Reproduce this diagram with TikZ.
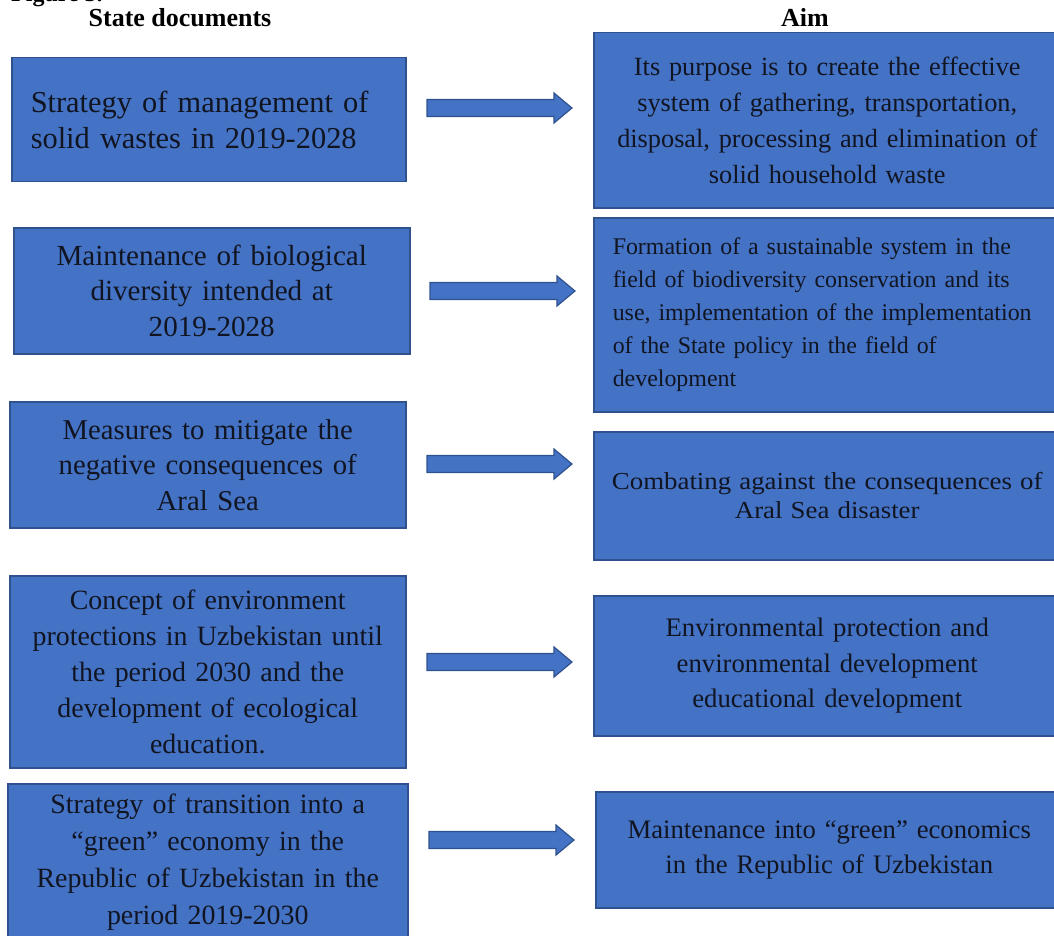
\documentclass[tikz,border=0pt]{standalone}
\usepackage{fontspec}
\setmainfont{Liberation Serif}
\newfontfamily\widefont[FakeStretch=1.1]{Liberation Serif}
\usetikzlibrary{calc}
\definecolor{boxblue}{HTML}{4472C4}
\definecolor{boxedge}{HTML}{2F528F}
\definecolor{inkcol}{HTML}{111522}
\begin{document}
\begin{tikzpicture}[x=1pt,y=-1pt,
  box/.style={draw=boxedge, line width=1.5pt, fill=boxblue, inner sep=0pt,
    anchor=north west, text=inkcol, align=center},
  head/.style={font=\bfseries\fontsize{26}{30}\selectfont, anchor=base, inner sep=0pt},
  barrow/.style={draw=boxedge, line width=1.2pt, fill=boxblue, line join=miter}]
\useasboundingbox (0,0) rectangle (1054,936);
\clip (0,0) rectangle (1054,936);

% headings
\node[head, anchor=base west, font=\bfseries\fontsize{24}{28}\selectfont] (fig) at (11,2) {Figure 3.};
\node[head] (hL) at (180,27) {State documents};
\node[head] (hR) at (805,27) {Aim};

% left column: state documents
\node[box, minimum width=394pt, minimum height=124pt, text width=356pt, align=left,
  font=\fontsize{30.4}{36}\selectfont] (L1) at (11,57)
  {Strategy of management of\\solid wastes in 2019-2028};
\node[box, minimum width=396pt, minimum height=126pt, text width=385pt,
  font=\fontsize{29.1}{35.5}\selectfont] (L2) at (13,227)
  {Maintenance of biological\\diversity intended at\\2019-2028};
\node[box, minimum width=396pt, minimum height=126pt, text width=385pt,
  font=\fontsize{28.7}{35.5}\selectfont] (L3) at (9,401)
  {Measures to mitigate the\\negative consequences of\\Aral Sea};
\node[box, minimum width=396pt, minimum height=192pt, text width=385pt,
  font=\fontsize{27.9}{36}\selectfont] (L4) at (9,575)
  {Concept of environment\\protections in Uzbekistan until\\the period 2030 and the\\development of ecological\\education.};
\node[box, minimum width=400pt, minimum height=157pt, text width=390pt,
  font=\fontsize{27.9}{37}\selectfont] (L5) at (7,783)
  {Strategy of transition into a\\“green” economy in the\\Republic of Uzbekistan in the\\period 2019-2030};

% right column: aims
\node[box, minimum width=467pt, minimum height=175pt, text width=455pt,
  font=\fontsize{26.3}{36}\selectfont] (R1) at (593,32)
  {Its purpose is to create the effective\\system of gathering, transportation,\\disposal, processing and elimination of\\solid household waste};
\node[box, minimum width=467pt, minimum height=194pt, text width=429pt, align=left,
  font=\fontsize{23.9}{33}\selectfont] (R2) at (593,217)
  {\mbox{Formation of a sustainable system in the}\\\mbox{field of biodiversity conservation and its}\\\mbox{use, implementation of the implementation}\\\mbox{of the State policy in the field of}\\development};
\node[box, minimum width=467pt, minimum height=128pt, text width=460pt,
  font=\widefont\fontsize{24.4}{29}\selectfont] (R3) at (593,431)
  {Combating against the consequences of\\Aral Sea disaster};
\node[box, minimum width=467pt, minimum height=140pt, text width=455pt,
  font=\fontsize{26.7}{35.5}\selectfont] (R4) at (593,595)
  {Environmental protection and\\environmental development\\educational development};
\node[box, minimum width=467pt, minimum height=116pt, text width=455pt,
  font=\fontsize{26.7}{35}\selectfont] (R5) at (595,791)
  {Maintenance into “green” economics\\in the Republic of Uzbekistan};

% block arrows
\coordinate (s1) at (427,108); \coordinate (e1) at (572,108);
\coordinate (s2) at (430,291); \coordinate (e2) at (575,291);
\coordinate (s3) at (427,464); \coordinate (e3) at (572,464);
\coordinate (s4) at (427,662); \coordinate (e4) at (572,662);
\coordinate (s5) at (429,840); \coordinate (e5) at (574,840);
\foreach \i in {1,...,5}{
  \draw[barrow] let \p1=(s\i), \p2=(e\i) in
    (\x1,\y1+8.5pt) -- (\x2-18pt,\y1+8.5pt) -- (\x2-18pt,\y1+15pt) -- (\x2,\y1)
    -- (\x2-18pt,\y1-15pt) -- (\x2-18pt,\y1-8.5pt) -- (\x1,\y1-8.5pt) -- cycle;
}
\end{tikzpicture}
\end{document}
